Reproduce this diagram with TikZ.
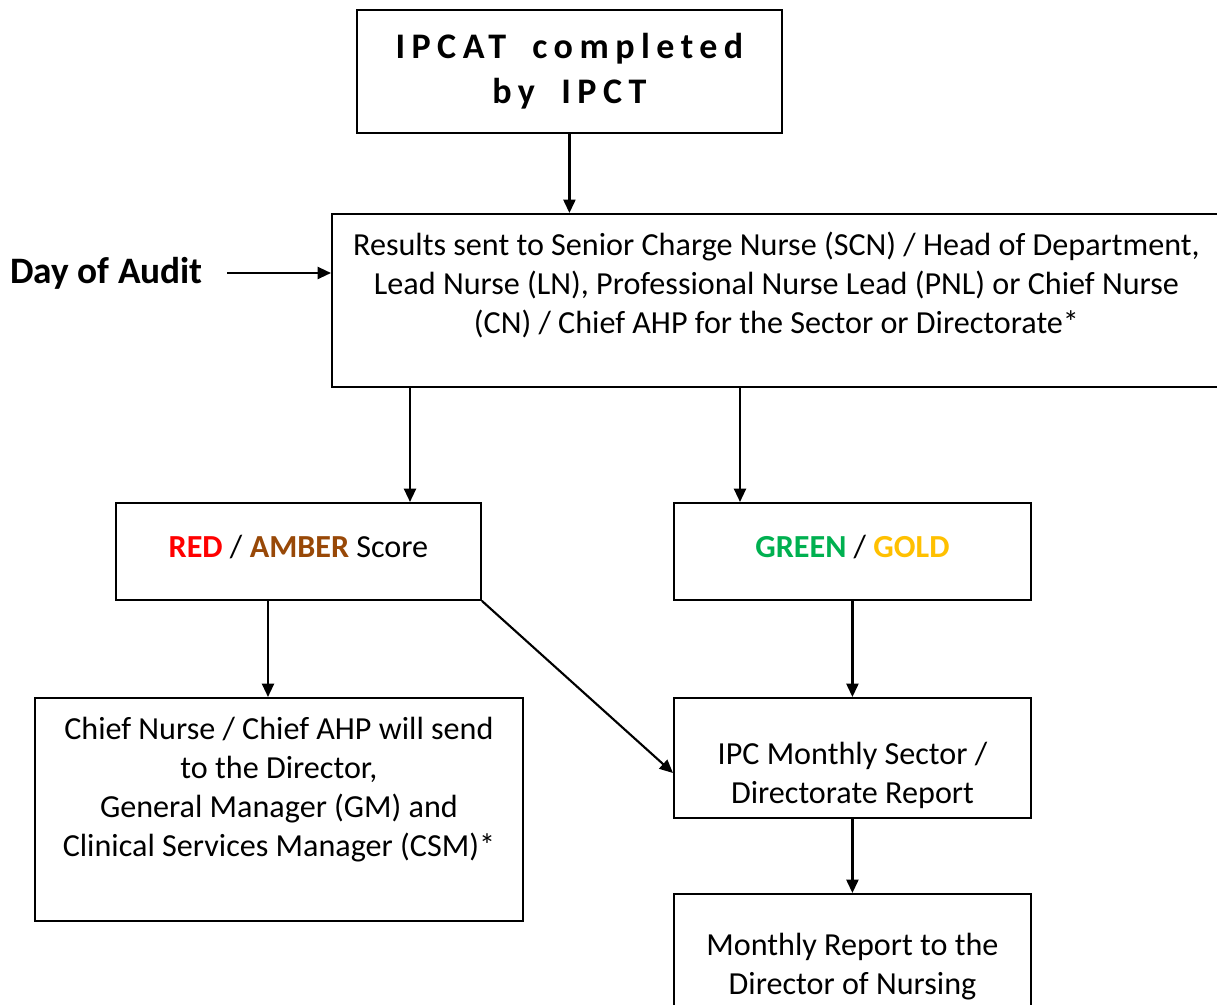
\documentclass[tikz,border=0pt]{standalone}
\usepackage{fontspec}
\setmainfont{Carlito}
\newfontfamily\spacedfont{Carlito}[LetterSpace=18, WordSpace=1.8]
\usetikzlibrary{arrows.meta}
\definecolor{auditred}{HTML}{FF0000}
\definecolor{auditamber}{HTML}{984807}
\definecolor{auditgreen}{HTML}{00B050}
\definecolor{auditgold}{HTML}{FFC000}
\newdimen\px \px=0.75pt
\newcommand{\flowtext}[4]{\parbox[c][#2\px][t]{#1\px}{\centering\rule{0pt}{#3\px}#4}}
\tikzset{
  flowbox/.style={draw, line width=1.4pt, inner sep=0pt, anchor=north west,
    font=\fontsize{24.1}{29.25}\selectfont},
  flowarrow/.style={-{Triangle[length=10pt,width=9pt]}, line width=1.6pt}
}
\begin{document}
\begin{tikzpicture}[x=0.75pt, y=-0.75pt]
\useasboundingbox (0,0) rectangle (1217,1005);
\node[draw, line width=1.4pt, minimum width=425\px, minimum height=123\px, anchor=north west,
  align=center, font=\spacedfont\bfseries\fontsize{27}{33.75}\selectfont] (ipcat) at (356,9) {IPCAT completed\\by IPCT};
\node[flowbox] (results) at (331,213) {\flowtext{889}{173}{42}{Results sent to Senior Charge Nurse (SCN) / Head of Department,\\
  Lead Nurse (LN), Professional Nurse Lead (PNL) or Chief Nurse\\
  (CN) / Chief AHP for the Sector or Directorate*}};
\node[anchor=west, inner xsep=18pt, font=\bfseries\fontsize{28}{32}\selectfont] (day) at (-14,273) {Day of Audit};
\node[flowbox] (ra) at (115,502) {\flowtext{365}{97}{55}{\textbf{\color{auditred}RED} / \textbf{\color{auditamber}AMBER} Score}};
\node[flowbox] (gg) at (673,502) {\flowtext{357}{97}{55}{\textbf{\color{auditgreen}GREEN} / \textbf{\color{auditgold}GOLD}}};
\node[flowbox] (chief) at (34,697) {\flowtext{488}{223}{42}{Chief Nurse / Chief AHP will send\\
  to the Director,\\ General Manager (GM) and\\ Clinical Services Manager (CSM)*}};
\node[flowbox] (ipc) at (673,697) {\flowtext{357}{120}{67}{IPC Monthly Sector /\\ Directorate Report}};
\node[flowbox] (monthly) at (673,893) {\flowtext{357}{140}{62}{Monthly Report to the\\ Director of Nursing}};
\coordinate (ra top) at (410,502);
\coordinate (gg top) at (740,502);
\coordinate (chief top) at (268,697);
\coordinate (ipc in) at (673,773);
\draw[flowarrow] (day.east) -- (day.east -| results.west);
\draw[flowarrow] (ipcat.south) -- (ipcat.south |- results.north);
\draw[flowarrow] (results.south -| ra top) -- (ra top);
\draw[flowarrow] (results.south -| gg top) -- (gg top);
\draw[flowarrow] (ra.south -| chief top) -- (chief top);
\draw[flowarrow] (ra.south east) -- (ipc in);
\draw[flowarrow] (gg.south) -- (gg.south |- ipc.north);
\draw[flowarrow] (ipc.south) -- (monthly.north);
\end{tikzpicture}
\end{document}
